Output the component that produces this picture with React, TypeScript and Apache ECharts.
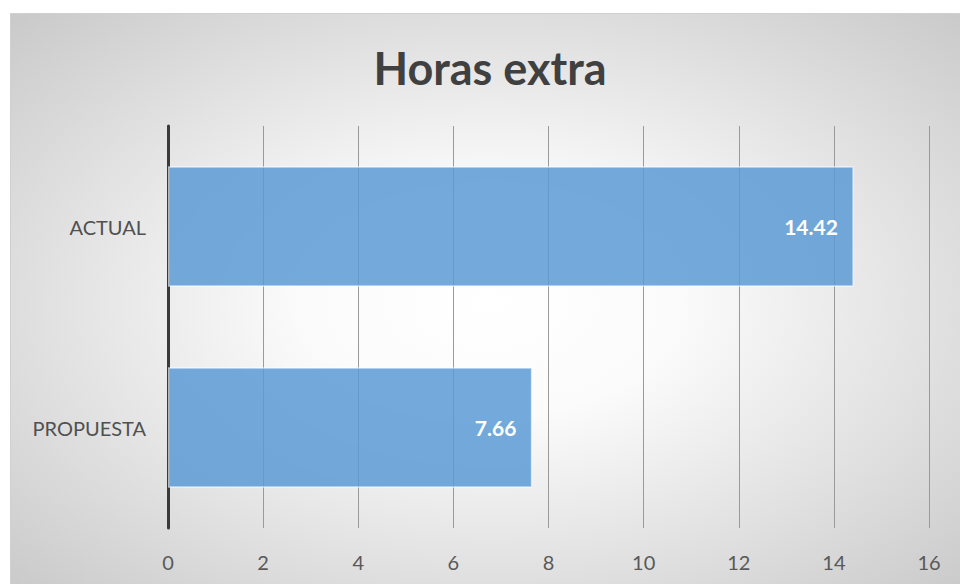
import React, { useEffect, useRef } from "react";
import * as echarts from "echarts";

const categories = ["PROPUESTA", "ACTUAL"];
const values = [7.66, 14.42];
const titleText = "Horas extra";
const axisMax = 16;
const axisInterval = 2;

export default function App() {
  const ref = useRef<HTMLDivElement>(null);
  useEffect(() => {
    if (!ref.current) return;
    const chart = echarts.init(ref.current, undefined, { renderer: "svg" });
    chart.setOption({
      animation: false,
      backgroundColor: "#ffffff",
      graphic: [
        {
          type: "rect",
          z: -10,
          silent: true,
          shape: { x: 10.5, y: 13.5, width: 960, height: 580 },
          style: {
            fill: new echarts.graphic.RadialGradient(0.5, 0.5, 0.78, [
              { offset: 0, color: "#ffffff" },
              { offset: 0.25, color: "#fbfbfb" },
              { offset: 1, color: "#c2c2c2" },
            ]),
            stroke: "#d0d0d0",
            lineWidth: 1,
          },
        },
      ],
      title: {
        text: titleText,
        left: 485,
        textAlign: "center",
        top: 40,
        textStyle: {
          fontFamily: "Lato",
          fontWeight: "bold",
          fontSize: 45,
          color: "#404040",
        },
      },
      grid: { left: 168, right: 31, top: 126, bottom: 56, containLabel: false },
      xAxis: {
        type: "value",
        min: 0,
        max: axisMax,
        interval: axisInterval,
        axisLine: { show: false },
        axisTick: { show: false },
        splitLine: { show: true, lineStyle: { color: "#9a9a9a", width: 1 } },
        axisLabel: {
          margin: 24,
          fontFamily: "Lato",
          fontSize: 20,
          color: "#595959",
        },
      },
      yAxis: {
        type: "category",
        data: categories,
        axisLine: { show: true, lineStyle: { color: "#3a3a3a", width: 3 } },
        axisTick: { show: false },
        axisLabel: {
          margin: 22,
          fontFamily: "Lato",
          fontSize: 20,
          color: "#505050",
        },
      },
      series: [
        {
          type: "bar",
          data: values,
          barCategoryGap: "40%",
          itemStyle: {
            color: "rgba(91,155,213,0.85)",
            borderColor: "rgba(255,255,255,0.6)",
            borderWidth: 1.5,
          },
          label: {
            show: true,
            position: "insideRight",
            distance: 16,
            color: "#ffffff",
            fontFamily: "Lato",
            fontWeight: "bold",
            fontSize: 21,
            formatter: (p: any) => p.value.toFixed(2),
          },
        },
      ],
    });
    return () => chart.dispose();
  }, []);
  return (
    <div
      ref={ref}
      style={{ position: "absolute", left: 0, top: 0, width: 960, height: 584 }}
    />
  );
}
